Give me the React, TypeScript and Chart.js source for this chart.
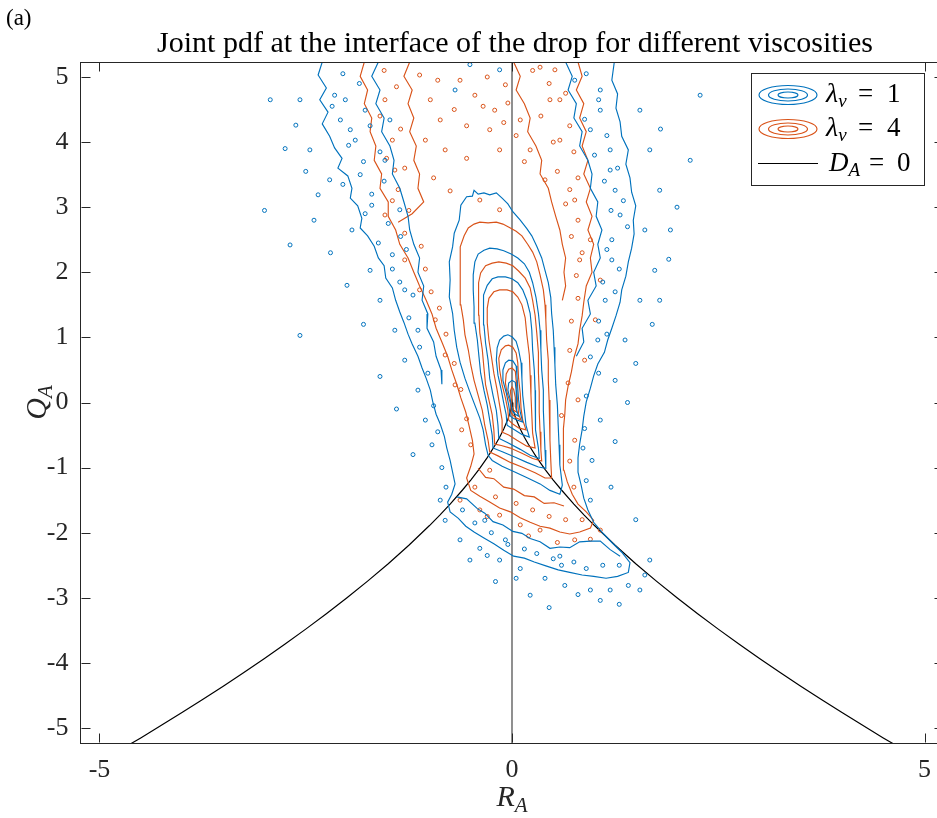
import React, { useEffect, useRef } from 'react';
import { Chart, registerables } from 'chart.js';
Chart.register(...registerables);

type P = [number, number];

const xTicks = [-5, 0, 5];
const yTicks = [-5, -4, -3, -2, -1, 0, 1, 2, 3, 4, 5];
const axisMin = -5.23;
const axisMax = 5.23;

const titleText = 'Joint pdf at the interface of the drop for different viscosities';
const legendLabels = ['λ', 'λ', 'D'];

// D_A = 0 curve
const dCurve: P[] = [
  [-4.7, -5.303], [-4.6, -5.226], [-4.5, -5.152], [-4.25, -4.959], [-4.0, -4.762], [-3.75, -4.563],
  [-3.5, -4.357], [-3.25, -4.147], [-3.0, -3.931], [-2.75, -3.709], [-2.5, -3.481], [-2.25, -3.245],
  [-2.0, -3.0], [-1.75, -2.744], [-1.5, -2.477], [-1.25, -2.193], [-1.0, -1.89], [-0.875, -1.729],
  [-0.75, -1.56], [-0.6, -1.344], [-0.5, -1.191], [-0.4, -1.026], [-0.3, -0.847], [-0.2, -0.646],
  [-0.15, -0.534], [-0.1, -0.407], [-0.05, -0.257], [-0.03, -0.183], [-0.02, -0.139], [-0.01, -0.088],
  [0, 0],
  [0.01, -0.088], [0.02, -0.139], [0.03, -0.183], [0.05, -0.257], [0.1, -0.407], [0.15, -0.534],
  [0.2, -0.646], [0.3, -0.847], [0.4, -1.026], [0.5, -1.191], [0.6, -1.344], [0.75, -1.56],
  [0.875, -1.729], [1.0, -1.89], [1.25, -2.193], [1.5, -2.477], [1.75, -2.744], [2.0, -3.0],
  [2.25, -3.245], [2.5, -3.481], [2.75, -3.709], [3.0, -3.931], [3.25, -4.147], [3.5, -4.357],
  [3.75, -4.563], [4.0, -4.762], [4.25, -4.959], [4.5, -5.152], [4.6, -5.226], [4.7, -5.303],
];
const zeroLine: P[] = [[0, -5.23], [0, 5.23]];

// lambda = 1 (blue) contours
const blueOuter: P[] = [
  [-2.30, 5.23], [-2.35, 5.03], [-2.25, 4.83], [-2.33, 4.65], [-2.23, 4.46], [-2.30, 4.28], [-2.21, 4.09],
  [-2.15, 3.91], [-2.06, 3.75], [-2.11, 3.60], [-1.99, 3.48], [-1.94, 3.29], [-1.96, 3.14], [-1.87, 3.02],
  [-1.82, 2.83], [-1.84, 2.68], [-1.75, 2.56], [-1.67, 2.40], [-1.62, 2.22], [-1.55, 2.10], [-1.53, 1.91],
  [-1.45, 1.76], [-1.41, 1.57], [-1.36, 1.39], [-1.31, 1.23], [-1.26, 1.05], [-1.21, 0.90], [-1.14, 0.71],
  [-1.09, 0.53], [-1.04, 0.37], [-0.99, 0.19], [-0.96, 0.01], [-0.92, -0.18], [-0.87, -0.33], [-0.82, -0.52],
  [-0.79, -0.70], [-0.75, -0.89], [-0.72, -1.07], [-0.69, -1.25], [-0.73, -1.41], [-0.78, -1.53], [-0.75, -1.68],
  [-0.65, -1.78], [-0.56, -1.90], [-0.46, -1.99], [-0.34, -2.08], [-0.22, -2.17], [-0.10, -2.27], [0.02, -2.36],
  [0.15, -2.39], [0.27, -2.45], [0.41, -2.51], [0.56, -2.57], [0.70, -2.61], [0.85, -2.65], [0.99, -2.67],
  [1.14, -2.70], [1.28, -2.67], [1.41, -2.61], [1.43, -2.46], [1.33, -2.30], [1.21, -2.15], [1.09, -1.99],
  [0.99, -1.84], [0.92, -1.65], [0.87, -1.47], [0.84, -1.28], [0.80, -1.07], [0.80, -0.85], [0.82, -0.64],
  [0.85, -0.42], [0.87, -0.21], [0.90, 0.01], [0.95, 0.22], [0.99, 0.41], [1.04, 0.59], [1.12, 0.77],
  [1.16, 0.96], [1.21, 1.14], [1.26, 1.33], [1.31, 1.54], [1.33, 1.73], [1.38, 1.94], [1.41, 2.16],
  [1.45, 2.37], [1.48, 2.59], [1.47, 2.80], [1.50, 3.02], [1.45, 3.23], [1.43, 3.45], [1.38, 3.66],
  [1.41, 3.88], [1.33, 4.09], [1.31, 4.31], [1.26, 4.52], [1.28, 4.74], [1.21, 4.95], [1.24, 5.23],
];
const blueArmInnerLeft: P[] = [
  [-1.62, 5.23], [-1.70, 5.01], [-1.60, 4.80], [-1.65, 4.59], [-1.55, 4.37], [-1.58, 4.16], [-1.48, 3.94],
  [-1.43, 3.72], [-1.45, 3.51], [-1.36, 3.29], [-1.31, 3.08], [-1.26, 2.86], [-1.24, 2.65], [-1.19, 2.43],
  [-1.12, 2.22], [-1.14, 2.00], [-1.07, 1.79], [-1.09, 1.57], [-1.02, 1.36], [-1.03, 1.14], [-0.95, 0.93],
  [-0.92, 0.71], [-0.86, 0.50], [-0.85, 0.28],
];
const blueArmInnerRight: P[] = [
  [0.65, 5.23], [0.73, 5.01], [0.68, 4.80], [0.78, 4.59], [0.75, 4.37], [0.85, 4.16], [0.82, 3.94],
  [0.92, 3.72], [0.97, 3.51], [0.95, 3.29], [1.04, 3.08], [1.02, 2.86], [1.09, 2.65], [1.04, 2.43],
  [1.07, 2.22], [0.99, 2.00], [1.02, 1.79], [0.92, 1.57], [0.95, 1.36], [0.85, 1.14], [0.87, 0.93], [0.78, 0.71],
];
const blueBandInner: P[] = [
  [-0.67, -1.45], [-0.55, -1.48], [-0.42, -1.63], [-0.33, -1.70], [-0.23, -1.83], [-0.11, -1.88], [0.01, -1.98],
  [0.12, -2.01], [0.22, -2.09], [0.34, -2.14], [0.46, -2.24], [0.58, -2.22], [0.70, -2.23], [0.82, -2.14],
  [0.95, -2.13], [1.07, -2.13], [1.19, -2.26], [1.31, -2.36],
];
const blueL2: P[] = [
  [-0.29, -0.81], [-0.32, -0.65], [-0.35, -0.42], [-0.39, -0.24], [-0.45, -0.04], [-0.51, 0.16], [-0.57, 0.37],
  [-0.63, 0.62], [-0.67, 0.85], [-0.70, 1.11], [-0.72, 1.37], [-0.76, 1.62], [-0.75, 1.88], [-0.76, 2.16],
  [-0.72, 2.39], [-0.70, 2.60], [-0.64, 2.80], [-0.62, 3.03], [-0.55, 3.16], [-0.48, 3.17], [-0.46, 3.26],
  [-0.41, 3.20], [-0.34, 3.22], [-0.27, 3.19], [-0.19, 3.22], [-0.12, 3.14], [-0.05, 3.05], [0.01, 2.93],
  [0.10, 2.80], [0.18, 2.67], [0.24, 2.56], [0.30, 2.40], [0.36, 2.22], [0.40, 2.03], [0.44, 1.84],
  [0.47, 1.61], [0.48, 1.37], [0.50, 1.11], [0.51, 0.85], [0.52, 0.58], [0.53, 0.27], [0.55, -0.04],
  [0.56, -0.35], [0.57, -0.65], [0.58, -0.96], [0.61, -1.27], [0.58, -1.41], [0.46, -1.35], [0.34, -1.25],
  [0.19, -1.16], [0.04, -1.07], [-0.12, -0.98], [-0.24, -0.89], [-0.29, -0.81],
];
const blueL3: P[] = [
  [-0.23, -0.70], [-0.24, -0.50], [-0.27, -0.27], [-0.30, -0.04], [-0.34, 0.19], [-0.38, 0.45], [-0.40, 0.70],
  [-0.42, 0.96], [-0.45, 1.22], [-0.46, 1.47], [-0.47, 1.73], [-0.47, 1.96], [-0.45, 2.16], [-0.41, 2.28],
  [-0.34, 2.34], [-0.27, 2.37], [-0.18, 2.36], [-0.10, 2.33], [-0.01, 2.28], [0.07, 2.22], [0.15, 2.13],
  [0.21, 2.00], [0.25, 1.84], [0.29, 1.62], [0.32, 1.37], [0.34, 1.11], [0.35, 0.81], [0.36, 0.50],
  [0.38, 0.19], [0.38, -0.12], [0.39, -0.42], [0.40, -0.73], [0.41, -1.01], [0.32, -0.99], [0.18, -0.92],
  [0.04, -0.84], [-0.11, -0.76], [-0.23, -0.70],
];
const blueL4: P[] = [
  [-0.16, -0.55], [-0.17, -0.35], [-0.19, -0.12], [-0.23, 0.11], [-0.27, 0.37], [-0.29, 0.65], [-0.32, 0.91],
  [-0.34, 1.19], [-0.35, 1.45], [-0.34, 1.65], [-0.30, 1.80], [-0.24, 1.90], [-0.17, 1.93], [-0.08, 1.93],
  [0, 1.90], [0.07, 1.84], [0.13, 1.73], [0.18, 1.57], [0.22, 1.37], [0.24, 1.11], [0.25, 0.81], [0.27, 0.50],
  [0.28, 0.19], [0.28, -0.12], [0.29, -0.42], [0.32, -0.70], [0.33, -0.86], [0.22, -0.81], [0.10, -0.72],
  [-0.05, -0.62], [-0.16, -0.55],
];
const blueL5: P[] = [
  [-0.06, -0.35], [-0.07, -0.19], [-0.10, -0.01], [-0.13, 0.19], [-0.17, 0.42], [-0.19, 0.65], [-0.18, 0.84],
  [-0.15, 0.96], [-0.10, 1.02], [-0.05, 1.04], [0, 1.01], [0.05, 0.94], [0.08, 0.81], [0.11, 0.61],
  [0.12, 0.37], [0.13, 0.11], [0.15, -0.12], [0.17, -0.35], [0.21, -0.53], [0.12, -0.49], [0.02, -0.41], [-0.06, -0.35],
];
const blueL6: P[] = [
  [-0.02, -0.21], [-0.04, -0.04], [-0.07, 0.15], [-0.11, 0.34], [-0.11, 0.50], [-0.08, 0.61], [-0.04, 0.65],
  [0.01, 0.64], [0.05, 0.56], [0.06, 0.42], [0.07, 0.22], [0.08, 0.04], [0.10, -0.15], [0.13, -0.30],
  [0.06, -0.27], [0.01, -0.24], [-0.02, -0.21],
];
const blueL7: P[] = [
  [0, -0.12], [-0.02, 0.04], [-0.05, 0.19], [-0.04, 0.30], [0, 0.34], [0.04, 0.31], [0.05, 0.19],
  [0.05, 0.04], [0.06, -0.12], [0.08, -0.21], [0.04, -0.18], [0, -0.12],
];
const blueDots: P[] = [
  [-2.57, 4.65], [-2.62, 4.26], [-2.45, 3.88], [-2.08, 4.34], [-1.90, 4.03], [-2.02, 4.65], [-1.78, 4.49],
  [-2.21, 3.42], [-2.35, 3.19], [-1.94, 2.65], [-1.72, 2.03], [-1.60, 1.57], [-1.42, 1.11], [-1.30, 0.65],
  [-1.14, 0.19], [-1.05, -0.27], [-0.97, -0.65], [-2.57, 1.03], [-2.93, 4.65], [-2.69, 2.42], [-1.48, 4.34],
  [-1.54, 3.72], [-1.36, 2.96], [1.07, 4.80], [1.55, 4.49], [1.67, 3.88], [1.79, 3.26], [1.61, 2.65],
  [1.73, 2.03], [1.55, 1.57], [1.37, 0.96], [1.25, 0.34], [1.07, -0.27], [0.97, -0.89], [2.28, 4.72],
  [2.16, 3.72], [1.92, 2.65], [1.79, 1.57], [0.76, 4.95], [0.95, 4.19], [1.19, 3.57], [1.31, 2.88],
  [1.21, 2.19], [-0.87, -1.50], [-0.81, -1.81], [-0.63, -2.11], [-0.39, -2.24], [-0.15, -2.42], [0.10, -2.55],
  [0.40, -2.70], [0.64, -2.81], [0.95, -2.88], [1.19, -2.88], [1.41, -2.81], [1.61, -2.65], [-0.51, -2.42],
  [0.22, -2.96], [1.07, -3.04], [1.55, -2.88], [1.67, -2.42], [-0.33, -1.81], [0.58, -2.36], [-0.08, -2.11],
  [-0.51, 5.19], [-0.15, 5.11], [-0.69, 4.80], [-2.15, 4.72], [-1.96, 4.19], [-1.84, 3.50], [-1.70, 3.03],
  [-1.45, 2.27], [-1.30, 1.73], [-1.14, 1.11], [1.07, 4.49], [1.19, 3.88], [1.25, 3.26], [1.21, 2.50],
  [1.13, 1.57], [1.04, 0.96],
  [-2.05, 5.05], [-1.85, 4.90], [-2.18, 4.55], [-1.72, 4.25], [-1.98, 3.95], [-1.60, 3.85], [-1.80, 3.70],
  [-2.05, 3.35], [-1.70, 3.20], [-1.55, 3.40], [-1.78, 2.90], [-1.50, 2.75], [-1.62, 2.45], [-1.35, 2.55],
  [-1.45, 2.05], [-1.28, 2.35], [-1.36, 1.85], [-1.20, 1.65], [-1.25, 1.30], [-1.12, 0.85], [-1.02, 0.45],
  [-0.95, -0.05], [-0.90, -0.45], [-0.85, -1.00], [-0.80, -1.30], [-2.50, 3.55], [-2.40, 2.80], [-2.20, 2.30],
  [-2.00, 1.80], [-1.80, 1.20], [-1.60, 0.40], [-1.40, -0.10], [-1.20, -0.80], [-2.75, 3.90], [-3.00, 2.95],
  [0.90, 5.05], [1.05, 4.65], [0.88, 4.35], [1.15, 4.10], [1.00, 3.80], [1.28, 3.60], [1.12, 3.40],
  [1.35, 3.10], [1.20, 2.95], [1.40, 2.70], [1.15, 2.35], [1.30, 2.05], [1.10, 1.85], [1.25, 1.70],
  [1.05, 1.25], [1.15, 1.05], [0.95, 0.70], [1.05, 0.45], [0.90, 0.10], [0.88, -0.40], [0.86, -0.70],
  [0.90, -1.20], [0.95, -1.50], [1.80, 4.20], [2.00, 3.00], [1.90, 2.20], [1.70, 1.20], [1.50, 0.60],
  [1.40, 0.00], [1.25, -0.60], [1.20, -1.30], [1.50, -1.80], [-0.60, -1.65], [-0.45, -1.85], [-0.25, -2.00],
  [-0.05, -2.18], [0.15, -2.25], [0.30, -2.32], [0.50, -2.40], [0.75, -2.45], [0.90, -2.55], [1.10, -2.50],
  [1.30, -2.50], [0.60, -2.50], [-0.30, -2.35], [0.05, -2.70], [0.80, -2.95], [1.30, -3.10], [0.45, -3.15],
  [-0.20, -2.75],
];

// lambda = 4 (orange) contours
const orangeOuter: P[] = [
  [-1.79, 5.23], [-1.84, 5.01], [-1.75, 4.80], [-1.79, 4.59], [-1.70, 4.37], [-1.72, 4.16], [-1.65, 3.94],
  [-1.67, 3.72], [-1.58, 3.51], [-1.60, 3.29], [-1.50, 3.08], [-1.50, 2.86], [-1.41, 2.65], [-1.36, 2.43],
  [-1.26, 2.22], [-1.19, 2.00], [-1.12, 1.79], [-1.04, 1.57], [-0.97, 1.36], [-0.92, 1.14], [-0.85, 0.93],
  [-0.78, 0.71], [-0.73, 0.50], [-0.67, 0.28], [-0.62, 0.07], [-0.56, -0.15], [-0.52, -0.36], [-0.48, -0.58],
  [-0.46, -0.79], [-0.50, -0.98], [-0.55, -1.16], [-0.50, -1.35], [-0.39, -1.44], [-0.27, -1.53], [-0.15, -1.62],
  [-0.02, -1.68], [0.10, -1.77], [0.22, -1.84], [0.34, -1.90], [0.46, -1.93], [0.58, -1.99], [0.70, -2.02],
  [0.82, -1.99], [0.95, -1.93], [0.99, -1.81], [0.90, -1.68], [0.80, -1.56], [0.73, -1.41], [0.67, -1.22],
  [0.63, -1.04], [0.62, -0.82], [0.62, -0.61], [0.63, -0.40], [0.64, -0.18], [0.65, 0.04], [0.68, 0.25],
  [0.72, 0.47], [0.75, 0.68], [0.80, 0.90], [0.82, 1.11], [0.85, 1.33], [0.87, 1.54], [0.90, 1.79],
  [0.97, 2.00], [0.95, 2.22], [0.99, 2.43], [0.92, 2.65], [0.97, 2.86], [0.90, 3.08], [0.95, 3.29],
  [0.87, 3.51], [0.92, 3.72], [0.85, 3.94], [0.90, 4.16], [0.82, 4.37], [0.87, 4.59], [0.78, 4.80],
  [0.85, 5.01], [0.80, 5.23],
];
const orangeArmInnerLeft: P[] = [
  [-1.24, 5.23], [-1.31, 5.01], [-1.21, 4.80], [-1.26, 4.59], [-1.19, 4.37], [-1.24, 4.16], [-1.16, 3.94],
  [-1.19, 3.72], [-1.12, 3.51], [-1.14, 3.29], [-1.07, 3.08], [-1.21, 2.90], [-1.38, 2.77],
];
const orangeArmInnerRight: P[] = [
  [0.02, 5.23], [0.10, 5.01], [0.05, 4.80], [0.15, 4.59], [0.22, 4.37], [0.19, 4.16], [0.29, 3.94],
  [0.36, 3.72], [0.34, 3.51], [0.44, 3.29], [0.48, 3.08], [0.53, 2.86], [0.58, 2.65], [0.61, 2.43],
  [0.65, 2.22], [0.63, 2.00], [0.65, 1.79], [0.61, 1.57],
];
const orangeBandInner: P[] = [
  [-0.41, -1.01], [-0.32, -1.15], [-0.22, -1.17], [-0.10, -1.30], [0.02, -1.33], [0.15, -1.43], [0.27, -1.45],
  [0.39, -1.55], [0.51, -1.54], [0.63, -1.59],
];
const orangeL2: P[] = [
  [-0.27, -0.76], [-0.29, -0.58], [-0.33, -0.35], [-0.36, -0.12], [-0.41, 0.11], [-0.46, 0.34], [-0.50, 0.58],
  [-0.53, 0.81], [-0.57, 1.04], [-0.59, 1.27], [-0.62, 1.50], [-0.63, 1.73], [-0.63, 1.96], [-0.63, 2.19],
  [-0.62, 2.39], [-0.58, 2.56], [-0.53, 2.68], [-0.46, 2.74], [-0.39, 2.77], [-0.29, 2.76], [-0.19, 2.77],
  [-0.11, 2.74], [-0.02, 2.68], [0.05, 2.63], [0.12, 2.56], [0.19, 2.43], [0.25, 2.31], [0.30, 2.16],
  [0.34, 1.96], [0.38, 1.73], [0.40, 1.50], [0.41, 1.27], [0.42, 0.96], [0.44, 0.65], [0.44, 0.34],
  [0.45, 0.04], [0.46, -0.27], [0.46, -0.58], [0.47, -0.89], [0.48, -1.16], [0.40, -1.16], [0.28, -1.08],
  [0.12, -0.99], [-0.02, -0.92], [-0.17, -0.82], [-0.27, -0.76],
];
const orangeL3: P[] = [
  [-0.21, -0.64], [-0.22, -0.42], [-0.24, -0.19], [-0.28, 0.04], [-0.32, 0.27], [-0.34, 0.53], [-0.36, 0.81],
  [-0.39, 1.07], [-0.40, 1.34], [-0.41, 1.60], [-0.40, 1.84], [-0.38, 1.99], [-0.32, 2.10], [-0.24, 2.14],
  [-0.16, 2.16], [-0.07, 2.14], [0.01, 2.10], [0.08, 2.02], [0.16, 1.91], [0.22, 1.76], [0.25, 1.57],
  [0.28, 1.34], [0.30, 1.07], [0.32, 0.77], [0.32, 0.47], [0.33, 0.16], [0.33, -0.15], [0.34, -0.45],
  [0.35, -0.73], [0.36, -0.90], [0.25, -0.86], [0.12, -0.78], [-0.02, -0.70], [-0.13, -0.66], [-0.21, -0.64],
];
const orangeL4: P[] = [
  [-0.11, -0.46], [-0.12, -0.27], [-0.15, -0.04], [-0.18, 0.19], [-0.22, 0.45], [-0.25, 0.71], [-0.28, 0.96],
  [-0.30, 1.22], [-0.30, 1.45], [-0.28, 1.60], [-0.22, 1.70], [-0.15, 1.73], [-0.06, 1.73], [0.01, 1.70],
  [0.07, 1.62], [0.12, 1.50], [0.16, 1.30], [0.18, 1.04], [0.21, 0.73], [0.22, 0.42], [0.23, 0.11],
  [0.24, -0.19], [0.25, -0.47], [0.28, -0.70], [0.18, -0.67], [0.06, -0.58], [-0.04, -0.50], [-0.11, -0.46],
];
const orangeL5: P[] = [
  [-0.04, -0.27], [-0.05, -0.12], [-0.08, 0.07], [-0.12, 0.27], [-0.15, 0.50], [-0.16, 0.68], [-0.13, 0.81],
  [-0.08, 0.87], [-0.04, 0.88], [0.01, 0.85], [0.05, 0.76], [0.07, 0.61], [0.08, 0.37], [0.10, 0.14],
  [0.11, -0.09], [0.13, -0.27], [0.17, -0.42], [0.08, -0.39], [0.01, -0.33], [-0.04, -0.27],
];
const orangeL6: P[] = [
  [-0.01, -0.16], [-0.02, -0.01], [-0.06, 0.15], [-0.08, 0.30], [-0.07, 0.44], [-0.04, 0.51], [0, 0.53],
  [0.04, 0.48], [0.05, 0.34], [0.06, 0.16], [0.07, -0.02], [0.08, -0.18], [0.11, -0.27], [0.04, -0.23], [-0.01, -0.16],
];
const orangeL7: P[] = [
  [0, -0.07], [-0.01, 0.07], [-0.02, 0.18], [0, 0.24], [0.02, 0.20], [0.04, 0.08], [0.04, -0.06],
  [0.06, -0.15], [0.02, -0.12], [0, -0.07],
];
const orangeDots: P[] = [
  [-1.12, 5.03], [-0.99, 4.65], [-0.87, 4.34], [-0.81, 3.88], [-1.05, 4.03], [-0.63, 4.95], [-0.45, 4.72],
  [-0.21, 4.49], [-0.08, 4.88], [-0.27, 4.19], [-0.15, 3.88], [0.10, 4.34], [0.22, 3.88], [0.40, 3.42],
  [-1.42, 3.57], [-1.54, 2.88], [-1.30, 2.19], [-1.12, 1.73], [-0.93, 1.27], [-0.81, 0.73], [-0.69, 0.27],
  [-0.61, -0.42], [0.76, 3.11], [0.95, 2.50], [1.07, 1.88], [1.01, 1.27], [0.88, 0.65], [0.80, 0.04],
  [0.76, -0.58], [-0.39, 3.11], [-0.15, 2.96], [0.34, 5.15], [0.52, 5.11], [0.58, 4.65], [-0.63, -1.50],
  [-0.15, -1.73], [0.34, -1.96], [0.76, -2.11], [-0.39, -1.65], [0.10, -1.88], [1.07, -1.96], [-0.27, -1.04],
  [-1.54, 4.65], [-1.45, 4.03], [-1.38, 3.27], [0.46, 4.65], [0.58, 4.03], [0.70, 3.27], [0.82, 2.19],
  [-1.55, 5.10], [-1.40, 4.85], [-1.60, 4.40], [-1.35, 4.20], [-1.52, 3.75], [-1.30, 3.60], [-1.45, 3.10],
  [-1.25, 2.95], [-1.30, 2.60], [-1.10, 2.40], [-1.05, 2.05], [-0.98, 1.70], [-0.88, 1.45], [-0.80, 1.05],
  [-0.70, 0.60], [-0.62, 0.20], [-0.55, -0.25], [-0.50, -0.65], [-0.90, 4.95], [-0.70, 4.50], [-0.55, 4.25],
  [-0.35, 4.55], [-0.30, 5.00], [-0.05, 4.60], [0.05, 4.10], [-0.10, 4.30], [0.15, 3.70], [-0.55, 3.75],
  [-0.95, 3.45], [-0.75, 3.25], [0.25, 5.10], [0.45, 4.90], [0.65, 4.75], [0.35, 4.40], [0.70, 4.25],
  [0.50, 4.00], [0.75, 3.85], [0.55, 3.55], [0.80, 3.45], [0.65, 3.05], [0.80, 2.80], [0.72, 2.55],
  [0.85, 2.30], [0.78, 1.95], [0.80, 1.60], [0.72, 1.25], [0.70, 0.80], [0.68, 0.30], [0.60, -0.20],
  [0.70, -0.90], [0.75, -1.30], [-0.45, -1.30], [-0.20, -1.45], [0.05, -1.55], [0.25, -1.65], [0.45, -1.75],
  [0.65, -1.80], [0.85, -1.80], [0.95, -2.10], [0.55, -2.15], [0.20, -2.05], [-0.30, -1.75],
];

const BLUE = '#0072BD';
const ORANGE = '#D95319';
const AXIS = '#262626';
const FONT = '"Liberation Serif", "Times New Roman", serif';

const blueLines = [blueOuter, blueArmInnerLeft, blueArmInnerRight, blueBandInner, blueL2, blueL3, blueL4, blueL5, blueL6, blueL7];
const orangeLines = [orangeOuter, orangeArmInnerLeft, orangeArmInnerRight, orangeBandInner, orangeL2, orangeL3, orangeL4, orangeL5, orangeL6, orangeL7];

const toXY = (a: P[]) => a.map(([x, y]) => ({ x, y }));
const lineDs = (pts: P[], color: string, width = 1.15) => ({
  data: toXY(pts), showLine: true, borderColor: color, borderWidth: width,
  pointRadius: 0, pointHoverRadius: 0, fill: false, tension: 0,
});
const dotDs = (pts: P[], color: string) => ({
  data: toXY(pts), showLine: false, pointRadius: 2, pointHoverRadius: 2, pointBorderWidth: 1,
  pointBorderColor: color, pointBackgroundColor: 'rgba(0,0,0,0)', pointStyle: 'circle',
});

type Run = { t: string; size: number; italic?: boolean; dy?: number; x?: number };
function drawRuns(ctx: CanvasRenderingContext2D, x: number, y: number, runs: Run[]) {
  let cx = x;
  for (const r of runs) {
    ctx.font = `${r.italic ? 'italic ' : ''}${r.size}px ${FONT}`;
    if (r.x !== undefined) cx = r.x;
    ctx.fillText(r.t, cx, y + (r.dy || 0));
    cx += ctx.measureText(r.t).width;
  }
}
function runsWidth(ctx: CanvasRenderingContext2D, runs: Run[]) {
  let w = 0;
  for (const r of runs) {
    ctx.font = `${r.italic ? 'italic ' : ''}${r.size}px ${FONT}`;
    w += ctx.measureText(r.t).width;
  }
  return w;
}

const decorPlugin = {
  id: 'decor',
  afterDraw(chart: any) {
    const ctx: CanvasRenderingContext2D = chart.ctx;
    const { left, right, top, bottom } = chart.chartArea;
    const xs = chart.scales.x;
    const ys = chart.scales.y;
    ctx.save();
    ctx.strokeStyle = AXIS;
    ctx.lineWidth = 1;
    ctx.beginPath();
    const T = Math.round(top) + 0.5;
    const Rr = Math.round(right) - 0.5;
    ctx.moveTo(left, T); ctx.lineTo(right, T);
    ctx.moveTo(Rr, top); ctx.lineTo(Rr, bottom);
    const L = Math.round(left) + 0.5;
    const B = Math.round(bottom) - 0.5;
    for (const v of xTicks) {
      const px = Math.round(xs.getPixelForValue(v)) + 0.5;
      ctx.moveTo(px, B); ctx.lineTo(px, B - 9);
      ctx.moveTo(px, T); ctx.lineTo(px, T + 9);
    }
    for (const v of yTicks) {
      const py = Math.round(ys.getPixelForValue(v)) + 0.5;
      ctx.moveTo(L, py); ctx.lineTo(L + 9, py);
      ctx.moveTo(Rr, py); ctx.lineTo(Rr - 9, py);
    }
    ctx.stroke();

    // panel label and title
    ctx.fillStyle = '#000';
    ctx.textAlign = 'left';
    ctx.textBaseline = 'alphabetic';
    ctx.font = `23px ${FONT}`;
    ctx.fillText('(a)', 6, 25);
    ctx.textAlign = 'center';
    ctx.font = `30px ${FONT}`;
    ctx.fillText(titleText, 515, 52);

    // axis titles
    ctx.textAlign = 'left';
    ctx.fillStyle = AXIS;
    const rRuns: Run[] = [{ t: 'R', size: 30, italic: true }, { t: 'A', size: 21, italic: true, dy: 6 }];
    drawRuns(ctx, 512 - runsWidth(ctx, rRuns) / 2, 806, rRuns);
    const qRuns: Run[] = [{ t: 'Q', size: 30, italic: true }, { t: 'A', size: 21, italic: true, dy: 6 }];
    ctx.save();
    ctx.translate(46, ys.getPixelForValue(0));
    ctx.rotate(-Math.PI / 2);
    drawRuns(ctx, -runsWidth(ctx, qRuns) / 2, 0, qRuns);
    ctx.restore();

    // legend
    ctx.fillStyle = '#fff';
    ctx.fillRect(751.5, 73.5, 173, 112);
    ctx.strokeStyle = AXIS;
    ctx.lineWidth = 1;
    ctx.strokeRect(751.5, 73.5, 173, 112);
    const rows = [95, 129, 163];
    const colors = [BLUE, ORANGE];
    ctx.lineWidth = 1.15;
    for (let i = 0; i < 2; i++) {
      ctx.strokeStyle = colors[i];
      for (const [rx, ry] of [[29, 9.5], [19.5, 6], [10, 3]]) {
        ctx.beginPath();
        ctx.ellipse(788, rows[i], rx, ry, 0, 0, Math.PI * 2);
        ctx.stroke();
      }
    }
    ctx.strokeStyle = '#000';
    ctx.lineWidth = 1;
    ctx.beginPath();
    ctx.moveTo(758, rows[2] + 0.5); ctx.lineTo(818, rows[2] + 0.5);
    ctx.stroke();
    ctx.fillStyle = '#000';
    drawRuns(ctx, 826, rows[0] + 7, [
      { t: legendLabels[0], size: 28, italic: true }, { t: 'ν', size: 19, italic: true, dy: 5 },
      { t: '=', size: 27, x: 858 }, { t: '1', size: 27, x: 887 },
    ]);
    drawRuns(ctx, 826, rows[1] + 7, [
      { t: legendLabels[1], size: 28, italic: true }, { t: 'ν', size: 19, italic: true, dy: 5 },
      { t: '=', size: 27, x: 858 }, { t: '4', size: 27, x: 887 },
    ]);
    drawRuns(ctx, 829, rows[2] + 8, [
      { t: legendLabels[2], size: 27, italic: true }, { t: 'A', size: 19, italic: true, dy: 5 },
      { t: '=', size: 27, x: 869 }, { t: '0', size: 27, x: 897 },
    ]);
    ctx.restore();
  },
};

export default function App() {
  const ref = useRef<HTMLCanvasElement | null>(null);
  useEffect(() => {
    if (!ref.current) return;
    const datasets: any[] = [];
    blueLines.forEach((l) => datasets.push(lineDs(l, BLUE)));
    datasets.push(dotDs(blueDots, BLUE));
    orangeLines.forEach((l) => datasets.push(lineDs(l, ORANGE)));
    datasets.push(dotDs(orangeDots, ORANGE));
    datasets.push(lineDs(dCurve, '#000', 1.2));
    datasets.push(lineDs(zeroLine, 'rgba(90,90,90,0.85)', 1.6));

    const tickFont = { family: 'Liberation Serif', size: 26 };
    const chart = new Chart(ref.current, {
      type: 'scatter',
      data: { datasets },
      plugins: [decorPlugin],
      options: {
        responsive: false,
        maintainAspectRatio: false,
        animation: false,
        events: [],
        layout: { padding: { top: 62, right: 6.5, left: 0, bottom: 0 } },
        plugins: { legend: { display: false }, tooltip: { enabled: false }, title: { display: false } },
        scales: {
          x: {
            type: 'linear', min: axisMin, max: axisMax,
            afterBuildTicks: (s: any) => { s.ticks = xTicks.map((v) => ({ value: v })); },
            afterFit: (s: any) => { s.height = 75; },
            grid: { display: false, drawTicks: false },
            border: { display: true, color: AXIS, width: 1 },
            ticks: { padding: 12, color: AXIS, font: tickFont, maxRotation: 0, autoSkip: false, callback: (v: any) => String(v) },
          },
          y: {
            type: 'linear', min: axisMin, max: axisMax,
            afterBuildTicks: (s: any) => { s.ticks = yTicks.map((v) => ({ value: v })); },
            afterFit: (s: any) => { s.width = 80.5; },
            grid: { display: false, drawTicks: false },
            border: { display: true, color: AXIS, width: 1 },
            ticks: { padding: 12, color: AXIS, font: tickFont, autoSkip: false, callback: (v: any) => String(v) },
          },
        },
      } as any,
    });
    return () => chart.destroy();
  }, []);
  return (
    <div style={{ position: 'fixed', left: 0, top: 0, width: 937, height: 818, overflow: 'hidden', background: '#fff' }}>
      <canvas ref={ref} width={950} height={818} style={{ display: 'block', width: 950, height: 818 }} />
    </div>
  );
}
